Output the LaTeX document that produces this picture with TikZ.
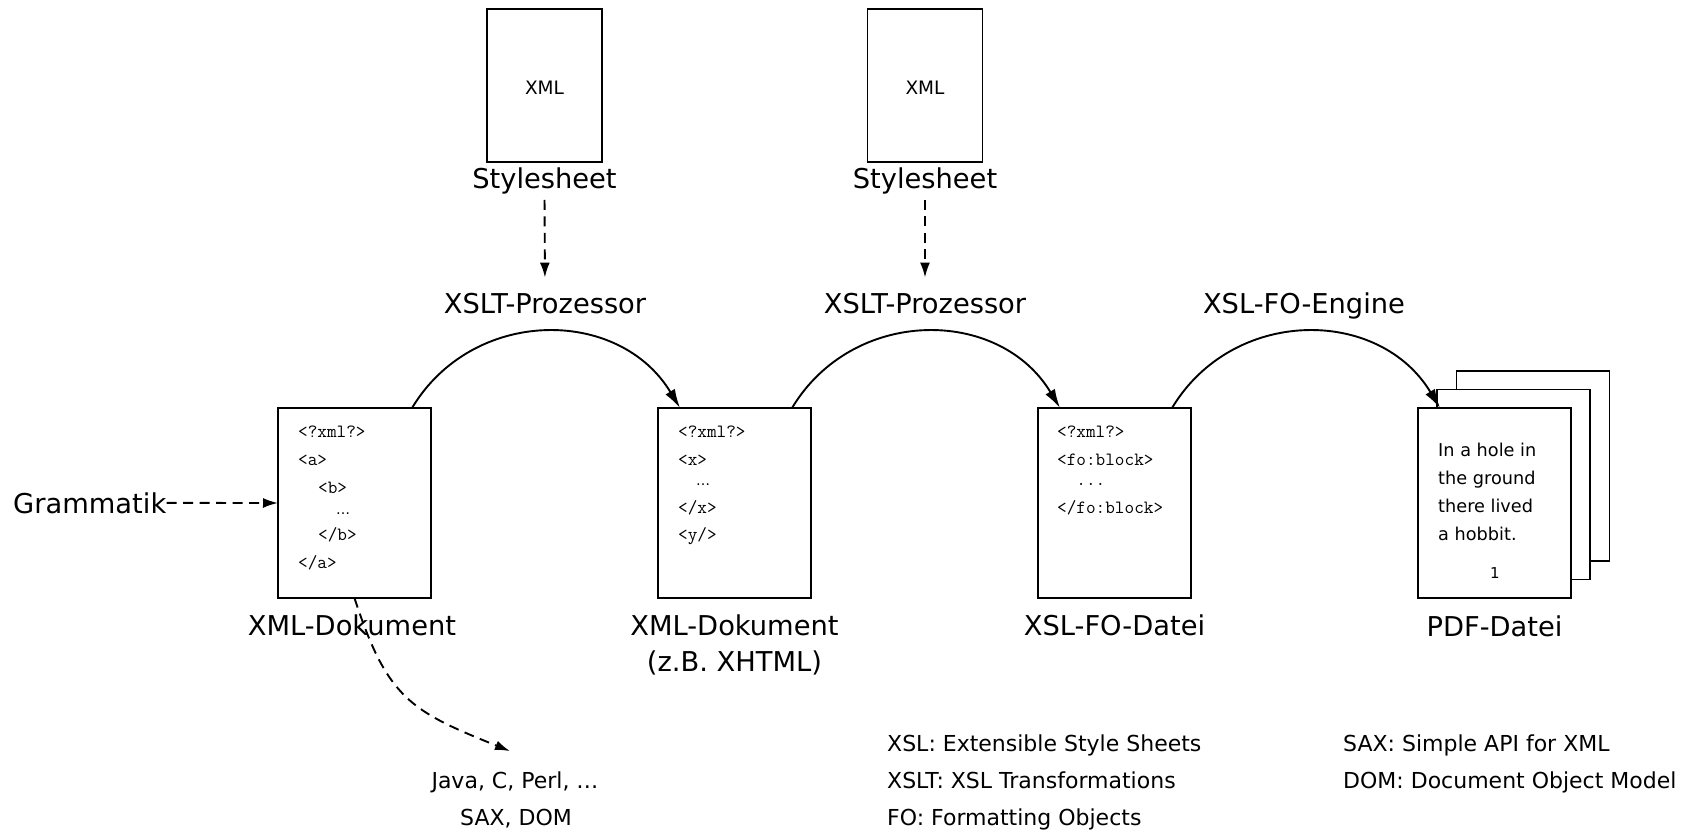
\documentclass[tikz,border=0pt]{standalone}
\usepackage{fontspec}
\setmainfont{DejaVu Sans}
\setmonofont{Latin Modern Mono}
\usetikzlibrary{arrows.meta,calc}
\newcommand\fbig{\fontsize{27.3}{32}\selectfont}
\newcommand\fleg{\fontsize{22}{26}\selectfont}
\newcommand\fxml{\fontsize{18.5}{22}\selectfont}
\newcommand\fcode{\ttfamily\fontsize{18.7}{22}\selectfont}
\newcommand\fhob{\fontsize{17.7}{22}\selectfont}
\newcommand\fpg{\fontsize{15}{18}\selectfont}
\newcommand\fdots{\fontsize{14}{16}\selectfont}
\begin{document}
\begin{tikzpicture}[x=1pt,y=1pt,
  box/.style={draw, line width=1.9pt, fill=white, inner sep=0pt, outer sep=0pt},
  docbox/.style={box, minimum width=153pt, minimum height=190pt},
  sheetbox/.style={box, minimum width=115pt, minimum height=153pt},
  big/.style={font=\fbig, inner sep=0pt, anchor=base},
  leg/.style={font=\fleg, inner sep=0pt, anchor=base west},
  code/.style={font=\fcode, inner sep=0pt, anchor=base west},
  hob/.style={font=\fhob, inner sep=0pt, anchor=base west},
  flow/.style={line width=1.9pt, -{Latex[length=19pt,width=11pt]}},
  dasharrow/.style={line width=1.9pt, dash pattern=on 10pt off 6.5pt, -{Latex[length=15pt,width=10pt]}},
]
\useasboundingbox (0,0) rectangle (1701,-832);

% stylesheets
\node[sheetbox] (s1) at (544.5,-85.5) {};
\node[font=\fxml, inner sep=0pt, anchor=base] (s1t) at (544.5,-95) {XML};
\node[big] (s1l) at (544.5,-189) {Stylesheet};
\node[big] (p1) at (545,-313) {XSLT-Prozessor};
\node[sheetbox] (s2) at (925,-85.5) {};
\node[font=\fxml, inner sep=0pt, anchor=base] (s2t) at (925,-95) {XML};
\node[big] (s2l) at (925,-189) {Stylesheet};
\node[big] (p2) at (925,-313) {XSLT-Prozessor};
\node[big] (p3) at (1304,-313) {XSL-FO-Engine};

\draw[dasharrow, shorten <=5pt, shorten >=15pt] (s1l.south) -- (p1.north);
\draw[dasharrow, shorten <=5pt, shorten >=15pt] (s2l.south) -- (p2.north);

% document 1
\node[docbox] (d1) at (354.5,-503) {};
\node[code] (d1a) at (298,-437) {<?xml?>};
\node[code] (d1b) at (298,-465) {<a>};
\node[code] (d1c) at (318,-493) {<b>};
\node[font=\fdots, inner sep=0pt, anchor=base west] (d1d) at (336,-514) {…};
\node[code] (d1e) at (318,-540) {</b>};
\node[code] (d1f) at (298,-568) {</a>};
\node[big] (d1l) at (352,-635) {XML-Dokument};

% document 2
\node[docbox] (d2) at (734.5,-503) {};
\node[code] (d2a) at (678,-437) {<?xml?>};
\node[code] (d2b) at (678,-465) {<x>};
\node[font=\fdots, inner sep=0pt, anchor=base west] (d2c) at (696,-485) {…};
\node[code] (d2d) at (678,-513) {</x>};
\node[code] (d2e) at (678,-540) {<y/>};
\node[big] (d2l) at (734.5,-635) {XML-Dokument};
\node[big] (d2m) at (734.5,-671) {(z.B. XHTML)};

% document 3
\node[docbox] (d3) at (1114.5,-503) {};
\node[code] (d3a) at (1057,-437) {<?xml?>};
\node[code] (d3b) at (1057,-465) {<fo:block>};
\node[code] (d3c) at (1057,-485) {\ \ ...};
\node[code] (d3d) at (1057,-513) {</fo:block>};
\node[big] (d3l) at (1114.5,-635) {XSL-FO-Datei};

% PDF pages
\node[docbox] (pdfc) at (1533,-466) {};
\node[docbox] (pdfb) at (1513.5,-484.5) {};
\node[docbox] (pdfa) at (1494.5,-503) {};
\node[hob] (h1) at (1438,-456) {In a hole in};
\node[hob] (h2) at (1438,-484) {the ground};
\node[hob] (h3) at (1438,-512) {there lived};
\node[hob] (h4) at (1438,-540) {a hobbit.};
\node[font=\fpg, inner sep=0pt, anchor=base] (pg) at (1495,-578) {1};
\node[big] (pl) at (1494.5,-636) {PDF-Datei};

% Grammatik
\node[big, anchor=base west] (gram) at (13,-513) {Grammatik};
\draw[dasharrow] (gram) -- (d1.west);

% processing arcs
\coordinate (a1s) at ($(d1.north east)+(-19,0)$);
\coordinate (a1e) at ($(d2.north west)+(22,0)$);
\coordinate (a2s) at ($(d2.north east)+(-19,0)$);
\coordinate (a2e) at ($(d3.north west)+(22,0)$);
\coordinate (a3s) at ($(d3.north east)+(-19,0)$);
\coordinate (a3e) at ($(pdfa.north west)+(22,0)$);
\draw[flow] (a1s) to[out=59,in=121,looseness=1.13] (a1e);
\draw[flow] (a2s) to[out=59,in=121,looseness=1.13] (a2e);
\draw[flow] (a3s) to[out=59,in=121,looseness=1.13] (a3e);

% APIs
\node[leg, anchor=base] (java) at (515,-788) {Java, C, Perl, …};
\node[leg, anchor=base] (saxdom) at (516,-825) {SAX, DOM};
\coordinate (jtip) at ($(java.north)+(-5,20)$);
\draw[dasharrow] (d1.south) to[out=-72,in=158,looseness=1.25] (jtip);

% legend
\node[leg] (l1) at (887,-751) {XSL: Extensible Style Sheets};
\node[leg] (l2) at (887,-788) {XSLT: XSL Transformations};
\node[leg] (l3) at (887,-825) {FO: Formatting Objects};
\node[leg] (l4) at (1343,-751) {SAX: Simple API for XML};
\node[leg] (l5) at (1343,-788) {DOM: Document Object Model};
\end{tikzpicture}
\end{document}
